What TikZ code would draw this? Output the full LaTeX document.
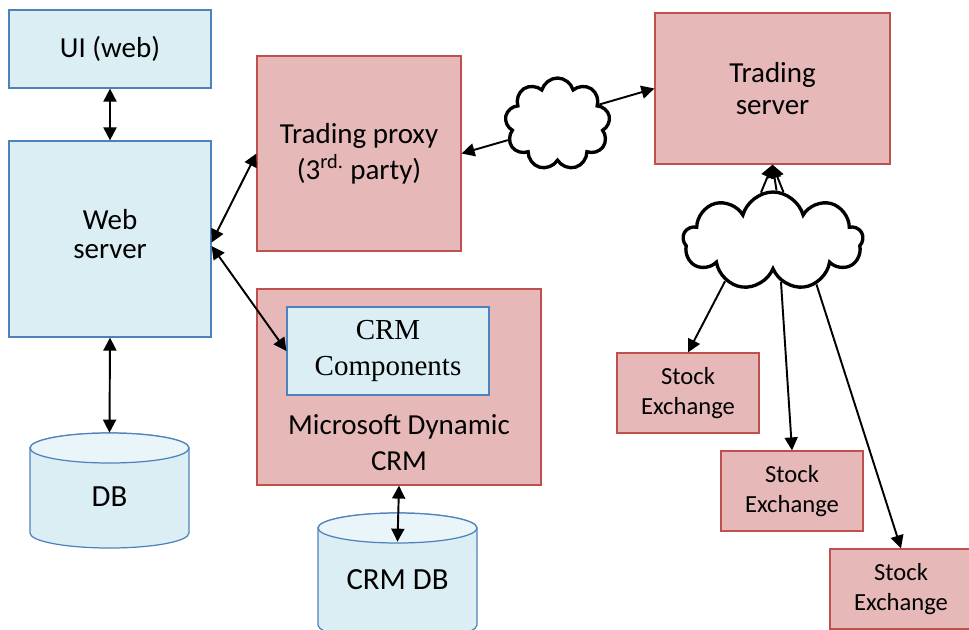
\documentclass[tikz,border=0pt]{standalone}
\usepackage{fontspec}
\setmainfont{Carlito}
\newfontfamily\crmserif{Liberation Serif}
\usepackage{xcolor}
\usepackage{tikz}
\usetikzlibrary{positioning,arrows.meta,shapes.geometric,shapes.symbols}
\definecolor{bFill}{HTML}{DAEEF3}
\definecolor{bTop}{HTML}{EAF5F9}
\definecolor{bLine}{HTML}{4F81BD}
\definecolor{rFill}{HTML}{E6B9B8}
\definecolor{rLine}{HTML}{C0504D}
\tikzset{
 bluebox/.style={draw=bLine, fill=bFill, line width=0.7pt, align=center, inner sep=0pt},
 redbox/.style={draw=rLine, fill=rFill, line width=0.7pt, align=center, inner sep=0pt},
 dbtext/.style={inner sep=0pt, font=\fontsize{17.5}{20}\selectfont},
 netcloud/.style={cloud, cloud puffs=9, cloud ignores aspect, draw, line width=1.9pt, fill=white, inner sep=0pt},
 tip/.tip={Triangle[length=0.26cm,width=0.26cm]},
 link/.style={line width=1.1pt, -tip},
 dlink/.style={line width=1.1pt, tip-tip},
}
% cylinder: centre x, top y, bottom y (radius 79.5)
\newcommand{\dbcylinder}[3]{%
 \draw[draw=bLine, fill=bFill, line width=0.7pt] (#1-79.5,#2+15) -- (#1-79.5,#3-15) arc[start angle=180, end angle=360, x radius=1.59cm, y radius=0.3cm] -- (#1+79.5,#2+15) arc[start angle=0, end angle=180, x radius=1.59cm, y radius=0.3cm] -- cycle;%
 \draw[draw=bLine, fill=bTop, line width=0.7pt] (#1,#2+15) ellipse[x radius=1.59cm, y radius=0.3cm];%
}
\newcommand{\sxnode}[2]{%
 \node[redbox, minimum width=2.84cm, minimum height=1.6cm, font=\fontsize{14}{17}\selectfont] (#1) at (#2) {Stock\\Exchange};%
}

\begin{document}
\begin{tikzpicture}[x=0.02cm, y=-0.02cm]
\useasboundingbox (0,0) rectangle (969,629);
\node[bluebox, minimum width=4.04cm, minimum height=1.56cm, font=\fontsize{16.5}{19}\selectfont] (ui) at (110,49) {UI (web)};
\node[bluebox, minimum width=4.04cm, minimum height=3.92cm, font=\fontsize{16.5}{16.5}\selectfont] (web) at (110,239) {Web\\server\\[-11pt]};
\node[redbox, minimum width=4.08cm, minimum height=3.9cm, font=\fontsize{16.5}{20.5}\selectfont] (proxy) at (359,153.5) {Trading proxy\\(3\textsuperscript{rd.} party)};
\node[redbox, minimum width=4.7cm, minimum height=3.02cm, font=\fontsize{16.5}{18}\selectfont] (tserver) at (772.5,88.5) {Trading\\server};
\node[redbox, minimum width=5.68cm, minimum height=3.92cm] (crm) at (399,387) {};
\node[bluebox, minimum width=4.04cm, minimum height=1.76cm, font=\crmserif\fontsize{16.5}{21}\selectfont] (crmc) at (388,351) {CRM\\Components};
\node[align=center, font=\fontsize{16.5}{20.5}\selectfont] (crmlabel) at (399,443) {Microsoft Dynamic\\CRM};
\dbcylinder{109.5}{433}{548}
\dbcylinder{397.5}{513}{640}
\node[dbtext, minimum height=2.56cm] (db) at (109.5,497) {DB};
\node[dbtext, minimum height=1.52cm] (crmdb) at (397.5,580) {CRM DB};
\node[netcloud, minimum width=2.1cm, minimum height=1.84cm] (cloud1) at (557.5,124) {};
\node[netcloud, minimum width=3.6cm, minimum height=1.96cm] (cloud2) at (773,241) {};
\sxnode{sx1}{688,393}
\sxnode{sx2}{792,491}
\sxnode{sx3}{901,589}
\draw[dlink] (ui.south) -- (web.north);
\draw[dlink] (web.south) -- (db.north);
\draw[dlink] ([yshift=-2pt]web.east) -- (proxy.west);
\draw[dlink] ([yshift=-4pt]web.east) -- (crmc.west);
\draw[dlink] (crm.south) -- (crmdb.north);
\draw[link] (cloud1.-162) -- (proxy.east);
\draw[link] (cloud1.25) -- (tserver.west);
\draw[link] (cloud2.104) -- (tserver.south);
\draw[link] (cloud2.86) -- (tserver.south);
\draw[link] (cloud2.78) -- (tserver.south);
\draw[link] (cloud2.-140) -- (sx1.north);
\draw[link] (cloud2.-79) -- (sx2.north);
\draw[link] (cloud2.-45) -- (sx3.north);
\end{tikzpicture}
\end{document}
